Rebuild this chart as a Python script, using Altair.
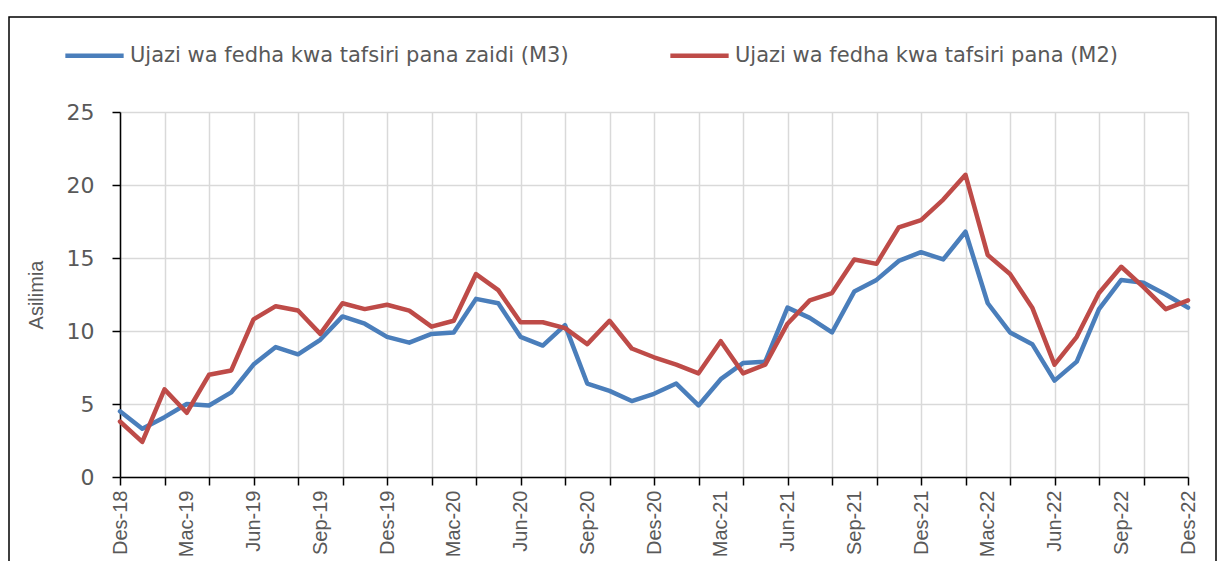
import json
import altair as alt
import pandas as pd

# Month index 0 = Des-18 ... 48 = Des-22
months = ["Des-18", "Jan-19", "Feb-19", "Mac-19", "Apr-19", "Mei-19", "Jun-19", "Jul-19", "Ago-19", "Sep-19", "Okt-19", "Nov-19",
          "Des-19", "Jan-20", "Feb-20", "Mac-20", "Apr-20", "Mei-20", "Jun-20", "Jul-20", "Ago-20", "Sep-20", "Okt-20", "Nov-20",
          "Des-20", "Jan-21", "Feb-21", "Mac-21", "Apr-21", "Mei-21", "Jun-21", "Jul-21", "Ago-21", "Sep-21", "Okt-21", "Nov-21",
          "Des-21", "Jan-22", "Feb-22", "Mac-22", "Apr-22", "Mei-22", "Jun-22", "Jul-22", "Ago-22", "Sep-22", "Okt-22", "Nov-22",
          "Des-22"]

m3 = [4.5, 3.3, 4.1, 5.0, 4.9, 5.8, 7.7, 8.9, 8.4, 9.4, 11.0, 10.5,
      9.6, 9.2, 9.8, 9.9, 12.2, 11.9, 9.6, 9.0, 10.4, 6.4, 5.9, 5.2,
      5.7, 6.4, 4.9, 6.7, 7.8, 7.9, 11.6, 10.9, 9.9, 12.7, 13.5, 14.8,
      15.4, 14.9, 16.8, 11.9, 9.9, 9.1, 6.6, 7.9, 11.5, 13.5, 13.3, 12.5,
      11.6]

m2 = [3.8, 2.4, 6.0, 4.4, 7.0, 7.3, 10.8, 11.7, 11.4, 9.8, 11.9, 11.5,
      11.8, 11.4, 10.3, 10.7, 13.9, 12.8, 10.6, 10.6, 10.2, 9.1, 10.7, 8.8,
      8.2, 7.7, 7.1, 9.3, 7.1, 7.7, 10.5, 12.1, 12.6, 14.9, 14.6, 17.1,
      17.6, 19.0, 20.7, 15.2, 13.9, 11.6, 7.7, 9.6, 12.6, 14.4, 13.0, 11.5,
      12.1]

tick_labels = ["Des-18", "Mac-19", "Jun-19", "Sep-19", "Des-19", "Mac-20", "Jun-20", "Sep-20", "Des-20",
               "Mac-21", "Jun-21", "Sep-21", "Des-21", "Mac-22", "Jun-22", "Sep-22", "Des-22"]

series_names = ["Ujazi wa fedha kwa tafsiri pana zaidi (M3)", "Ujazi wa fedha kwa tafsiri pana (M2)"]
series_colors = ["#4A7EBB", "#BE4B48"]
y_ticks = [0, 5, 10, 15, 20, 25]

rows = []
for i, mname in enumerate(months):
    rows.append({"idx": i, "month": mname, "series": series_names[0], "value": m3[i]})
for i, mname in enumerate(months):
    rows.append({"idx": i, "month": mname, "series": series_names[1], "value": m2[i]})
df = pd.DataFrame(rows)

n_last = len(months) - 1
x_values = sorted(set(range(0, n_last + 1, 2)) | set(range(0, n_last + 1, 3)))
label_expr = "datum.value % 3 === 0 ? " + json.dumps(tick_labels) + "[datum.value / 3] : ''"

GRAY_TXT = "#595959"
GRID = "#D9D9D9"

x_axis = alt.Axis(
    values=x_values,
    labelExpr=label_expr,
    labelAngle=270,
    labelAlign="right",
    labelBaseline="middle",
    labelFont="Liberation Sans",
    labelFontSize=20,
    labelColor=GRAY_TXT,
    labelPadding=5,
    labelOverlap=False,
    labelFlush=False,
    tickColor="black",
    tickSize=8,
    tickWidth=1.5,
    tickOpacity={"condition": {"test": "datum.value % 2 === 0", "value": 1}, "value": 0},
    grid=True,
    gridColor=GRID,
    gridWidth=1.5,
    gridOpacity={"condition": {"test": "datum.value % 2 === 0", "value": 1}, "value": 0},
    domainColor="black",
    domainWidth=1.5,
    title=None,
)

y_axis = alt.Axis(
    values=y_ticks,
    labelFont="DejaVu Sans",
    labelFontSize=22,
    labelColor=GRAY_TXT,
    labelPadding=18,
    tickColor="black",
    tickSize=8,
    tickWidth=1.5,
    grid=True,
    gridColor=GRID,
    gridWidth=1.5,
    domainColor="black",
    domainWidth=1.5,
    title="Asilimia",
    titleFont="Liberation Sans",
    titleFontSize=20,
    titleFontWeight="normal",
    titleColor=GRAY_TXT,
    titlePadding=20,
)

lines = alt.Chart(df).mark_line(strokeWidth=4.5, strokeJoin="round", strokeCap="round").encode(
    x=alt.X("idx:Q", axis=x_axis, scale=alt.Scale(domain=[0, n_last], nice=False, zero=False)),
    y=alt.Y("value:Q", axis=y_axis, scale=alt.Scale(domain=[0, 25], nice=False)),
    color=alt.Color(
        "series:N",
        scale=alt.Scale(domain=series_names, range=series_colors),
        sort=series_names,
        legend=alt.Legend(
            title=None,
            orient="none",
            legendX=-57,
            legendY=-88,
            direction="horizontal",
            symbolType="stroke",
            symbolSize=3400,
            symbolStrokeWidth=4.5,
            labelFont="DejaVu Sans",
            labelFontSize=21,
            labelColor=GRAY_TXT,
            labelOffset=4,
            columnPadding=92,
            labelLimit=800,
        ),
    ),
    detail="series:N",
)

frame = alt.Chart(pd.DataFrame({"a": [0]})).mark_rect(
    filled=False, stroke="black", strokeWidth=1.5
).encode(
    x=alt.value(-111), x2=alt.value(1096), y=alt.value(-95), y2=alt.value(470)
)

chart = alt.layer(frame, lines).properties(
    width=1068,
    height=365,
    autosize=alt.AutoSizeParams(type="none"),
    padding={"left": 112, "top": 104, "right": 29, "bottom": 84},
).configure_view(stroke=None).configure(background="white")

chart.save("out.html", embed_options={"renderer": "svg", "actions": False})
